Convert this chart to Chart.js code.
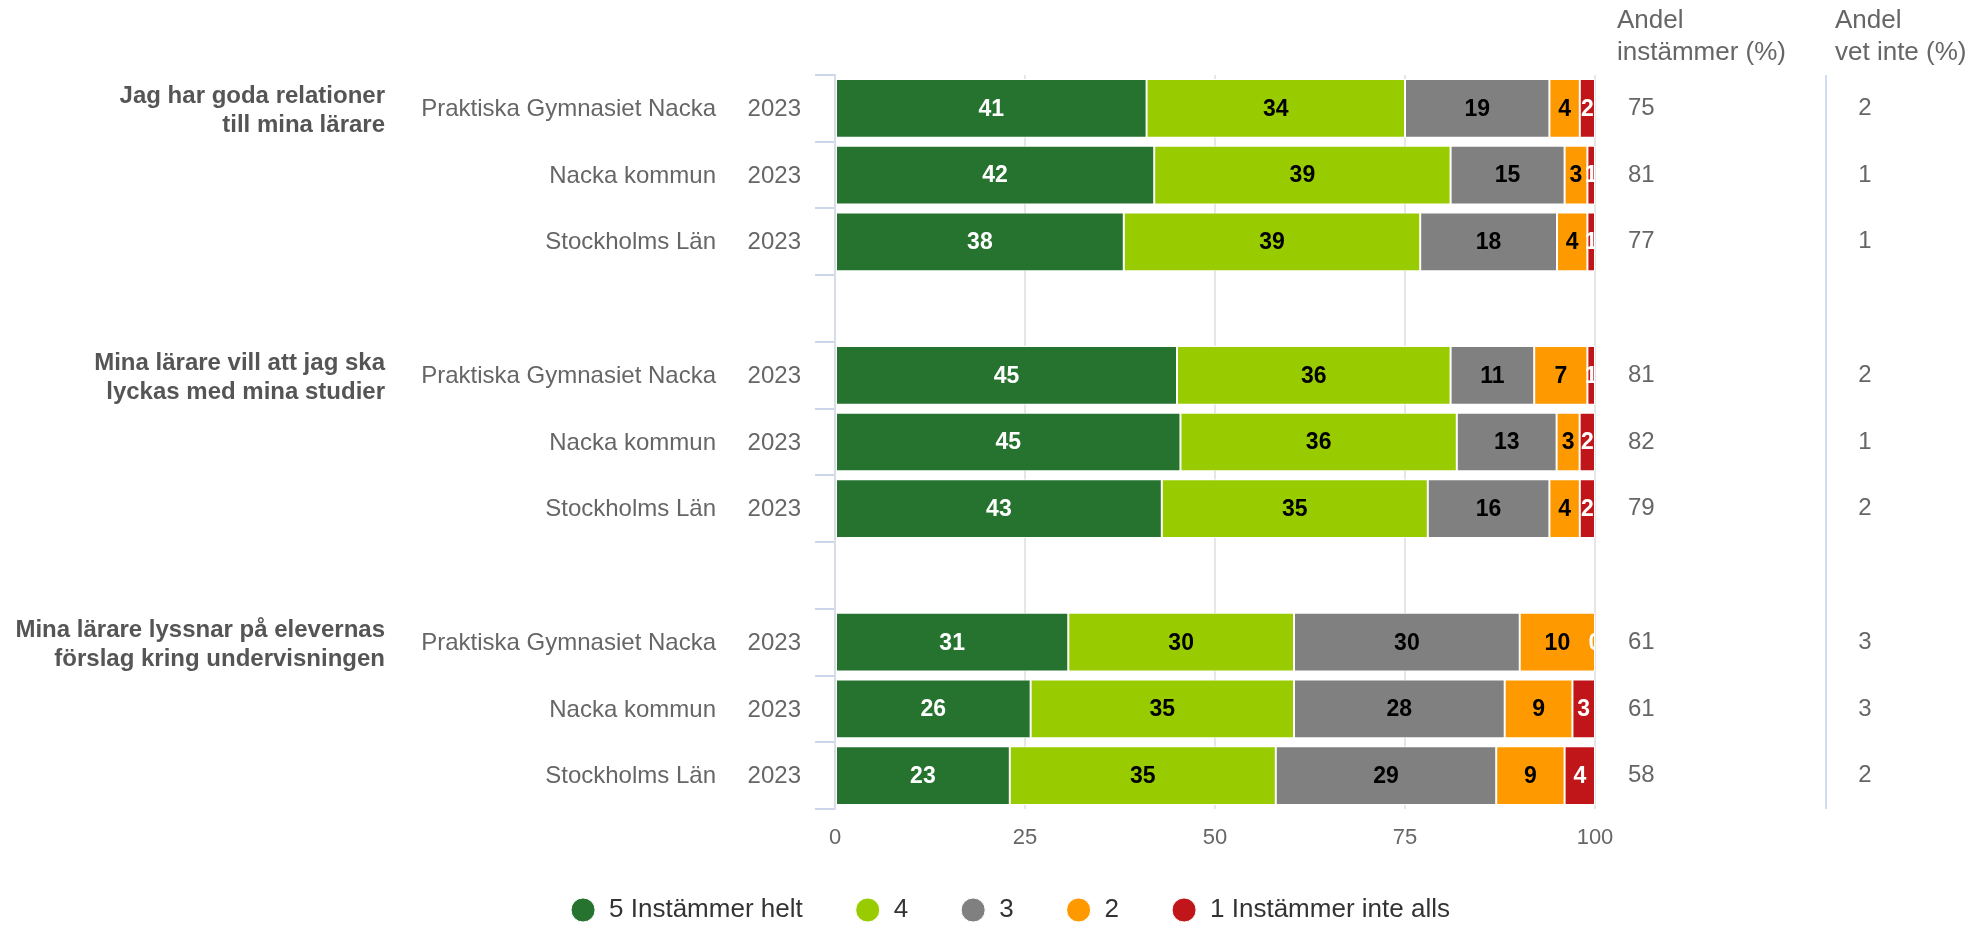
<!DOCTYPE html>
<html>
<head>
<meta charset="utf-8">
<script src="https://cdn.jsdelivr.net/npm/chart.js@4.4.1/dist/chart.umd.min.js"></script>
<style>
  body { margin: 0; background: #fff; }
  #wrap { width: 1976px; height: 925px; }
</style>
</head>
<body>
<div id="wrap"><canvas id="c"></canvas></div>
<script>
// data
const questions = [
    ['Jag har goda relationer', 'till mina lärare'],
    ['Mina lärare vill att jag ska', 'lyckas med mina studier'],
    ['Mina lärare lyssnar på elevernas', 'förslag kring undervisningen']
];
const units = ['Praktiska Gymnasiet Nacka', 'Nacka kommun', 'Stockholms Län'];
const year = '2023';
const seriesNames = ['5 Instämmer helt', '4', '3', '2', '1 Instämmer inte alls'];

// one entry per bar: q1 (3 units), q2 (3 units), q3 (3 units)
const v5 = [41, 42, 38, 45, 45, 43, 31, 26, 23];
const v4 = [34, 39, 39, 36, 36, 35, 30, 35, 35];
const v3 = [19, 15, 18, 11, 13, 16, 30, 28, 29];
const v2 = [4, 3, 4, 7, 3, 4, 10, 9, 9];
const v1 = [2, 1, 1, 1, 2, 2, 0, 3, 4];
const andelInstammer = [75, 81, 77, 81, 82, 79, 61, 61, 58];
const andelVetInte = [2, 1, 1, 2, 1, 2, 3, 3, 2];

// styles
const seriesColors = ['#267330', '#99cc00', '#808080', '#ff9900', '#c0161a'];
const labelColors = ['#ffffff', '#000000', '#000000', '#000000', '#ffffff'];
const FONT = '"Liberation Sans", Arial, sans-serif';

// rows: 3 bars per question, an empty row between questions
const allValues = [v5, v4, v3, v2, v1];
let rowIndex = [];   // row -> bar index or null
questions.forEach((q, g) => {
    for (let k = 0; k < units.length; k++) rowIndex.push(g * units.length + k);
    if (g < questions.length - 1) rowIndex.push(null);
});
const rowLabels = rowIndex.map((b, r) => b === null ? 'gap' + r : units[b % units.length]);
const rowSums = v5.map((_, b) => allValues.reduce((s, arr) => s + arr[b], 0));

const datasets = allValues.map((arr, i) => ({
    label: seriesNames[i],
    data: rowIndex.map(b => b === null ? null : arr[b] / rowSums[b] * 100),
    backgroundColor: seriesColors[i],
    borderColor: '#ffffff',
    borderWidth: 1,
    borderSkipped: false,
    barPercentage: 0.88,
    categoryPercentage: 1
}));

// labels inside the bars
const barLabels = {
    id: 'barLabels',
    afterDatasetsDraw(chart) {
        const ctx = chart.ctx;
        const a = chart.chartArea;
        ctx.save();
        ctx.beginPath();
        ctx.rect(a.left, a.top, a.right - a.left, a.bottom - a.top);
        ctx.clip();
        ctx.font = 'bold 23px ' + FONT;
        ctx.textAlign = 'center';
        ctx.textBaseline = 'middle';
        allValues.forEach((arr, i) => {
            const meta = chart.getDatasetMeta(i);
            meta.data.forEach((bar, r) => {
                const b = rowIndex[r];
                if (b === null) return;
                ctx.fillStyle = labelColors[i];
                ctx.fillText(String(arr[b]), (bar.x + bar.base) / 2, bar.y + 1);
            });
        });
        ctx.restore();
    }
};

// grouped category labels + side table
const sideText = {
    id: 'sideText',
    afterDraw(chart) {
        const ctx = chart.ctx;
        const y = chart.scales.y;
        const a = chart.chartArea;
        ctx.save();
        ctx.textBaseline = 'middle';

        rowIndex.forEach((b, r) => {
            if (b === null) return;
            const py = y.getPixelForValue(r);
            ctx.fillStyle = '#666666';
            ctx.font = '24px ' + FONT;
            ctx.textAlign = 'right';
            ctx.fillText(units[b % units.length], 716, py + 1);
            ctx.fillText(year, 801, py + 1);
            ctx.textAlign = 'left';
            ctx.fillText(String(andelInstammer[b]), 1628, py);
            ctx.textAlign = 'center';
            ctx.fillText(String(andelVetInte[b]), 1865, py);
            if (b % units.length === 0) {
                const q = questions[Math.floor(b / units.length)];
                ctx.fillStyle = '#555555';
                ctx.font = 'bold 24px ' + FONT;
                ctx.textAlign = 'right';
                ctx.fillText(q[0], 385, py - 12);
                ctx.fillText(q[1], 385, py + 17);
            }
        });

        // column headers
        ctx.fillStyle = '#666666';
        ctx.font = '26px ' + FONT;
        ctx.textAlign = 'left';
        ctx.fillText('Andel', 1617, 21);
        ctx.fillText('instämmer (%)', 1617, 53);
        ctx.fillText('Andel', 1835, 21);
        ctx.fillText('vet inte (%)', 1835, 53);

        // separator
        ctx.strokeStyle = '#d3dcef';
        ctx.lineWidth = 2;
        ctx.beginPath();
        ctx.moveTo(1826, a.top);
        ctx.lineTo(1826, a.bottom);
        ctx.stroke();
        ctx.restore();
    }
};

const config = {
    type: 'bar',
    data: { labels: rowLabels, datasets: datasets },
    options: {
        indexAxis: 'y',
        responsive: true,
        maintainAspectRatio: false,
        animation: false,
        layout: { padding: { left: 44, right: 0, top: 75, bottom: -8 } },
        scales: {
            x: {
                stacked: true,
                min: 0,
                max: 100,
                ticks: { stepSize: 25, color: '#666666', font: { size: 22, family: FONT }, padding: 16 },
                grid: {
                    drawTicks: false,
                    lineWidth: 2,
                    color: c => c.tick && c.tick.value === 0 ? 'rgba(0,0,0,0)' : '#e6e6e6'
                },
                border: { display: false },
                afterFit: s => { s.height = 36; }
            },
            y: {
                stacked: true,
                ticks: { display: false },
                grid: {
                    offset: true,
                    drawOnChartArea: false,
                    tickLength: 20,
                    lineWidth: 2,
                    color: '#ccd6eb'
                },
                border: { color: '#d8dde8', width: 2 },
                afterFit: s => { s.width = 791; }
            },
            y2: {
                type: 'category',
                labels: rowLabels,
                position: 'right',
                ticks: { display: false },
                grid: { display: false },
                border: { display: false },
                afterFit: s => { s.width = 381; }
            }
        },
        plugins: {
            legend: {
                position: 'bottom',
                labels: {
                    usePointStyle: true,
                    pointStyle: 'circle',
                    boxWidth: 26,
                    boxHeight: 17,
                    padding: 52,
                    color: '#333333',
                    font: { size: 26, family: FONT }
                }
            },
            tooltip: { enabled: false }
        }
    },
    plugins: [barLabels, sideText]
};

const chart = new Chart(document.getElementById('c').getContext('2d'), config);
</script>
</body>
</html>
